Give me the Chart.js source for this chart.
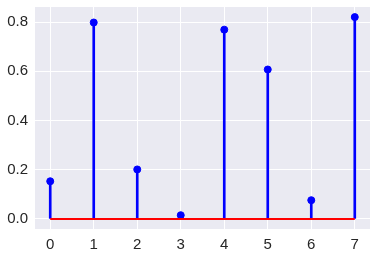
<!DOCTYPE html>
<html><head><meta charset="utf-8">
<script src="https://cdn.jsdelivr.net/npm/chart.js@4"></script>
<style>html,body{margin:0;padding:0;background:#fff;}#w{width:377px;height:258px;}</style>
</head><body><div id="w"><canvas id="c"></canvas></div>
<script>
const xs = [0, 1, 2, 3, 4, 5, 6, 7];
const values = [0.153, 0.798, 0.201, 0.015, 0.769, 0.607, 0.076, 0.820];
const xTicks = [0, 1, 2, 3, 4, 5, 6, 7];
const yTicks = [0.0, 0.2, 0.4, 0.6, 0.8];

const pts = xs.map((x, i) => ({x: x, y: values[i]}));
const base = [{x: xs[0], y: 0}, {x: xs[xs.length - 1], y: 0}];

const bgPlugin = {
  id: 'bg',
  beforeDraw(chart) {
    const a = chart.chartArea, ctx = chart.ctx;
    ctx.save();
    ctx.fillStyle = '#EAEAF2';
    ctx.fillRect(a.left, a.top, a.right - a.left, a.bottom - a.top);
    ctx.restore();
  }
};

const font = {family: '"Liberation Sans", Arial, sans-serif', size: 15};

new Chart(document.getElementById('c'), {
  type: 'bar',
  data: {
    datasets: [
      {type: 'line', data: base, borderColor: '#FF0000', borderWidth: 2, pointRadius: 0, order: 0},
      {type: 'scatter', data: pts, backgroundColor: '#0000FF', borderColor: '#0000FF', pointRadius: 3.5, order: 1},
      {type: 'bar', data: pts, backgroundColor: '#0000FF', barThickness: 2, grouped: false, order: 2}
    ]
  },
  options: {
    responsive: true, maintainAspectRatio: false, animation: false,
    layout: {padding: {left: 0, top: 7, right: 7, bottom: 0}},
    plugins: {legend: {display: false}, tooltip: {enabled: false}},
    scales: {
      x: {
        type: 'linear', min: -0.35, max: 7.35, offset: false,
        grid: {color: '#FFFFFF', lineWidth: 1, drawTicks: false, offset: false},
        border: {display: false},
        afterBuildTicks(s) { s.ticks = xTicks.map(v => ({value: v})); },
        afterFit(s) { s.height = 29; s.paddingLeft = 0; s.paddingRight = 0; },
        ticks: {color: '#262626', font: font, padding: 7, callback: v => String(v)}
      },
      y: {
        min: -0.041, max: 0.861,
        grid: {color: '#FFFFFF', lineWidth: 1, drawTicks: false},
        border: {display: false},
        afterBuildTicks(s) { s.ticks = yTicks.map(v => ({value: v})); },
        afterFit(s) { s.width = 35; s.paddingTop = 0; s.paddingBottom = 0; },
        ticks: {color: '#262626', font: font, padding: 7, callback: v => Number(v).toFixed(1)}
      }
    }
  },
  plugins: [bgPlugin]
});
</script></body></html>
